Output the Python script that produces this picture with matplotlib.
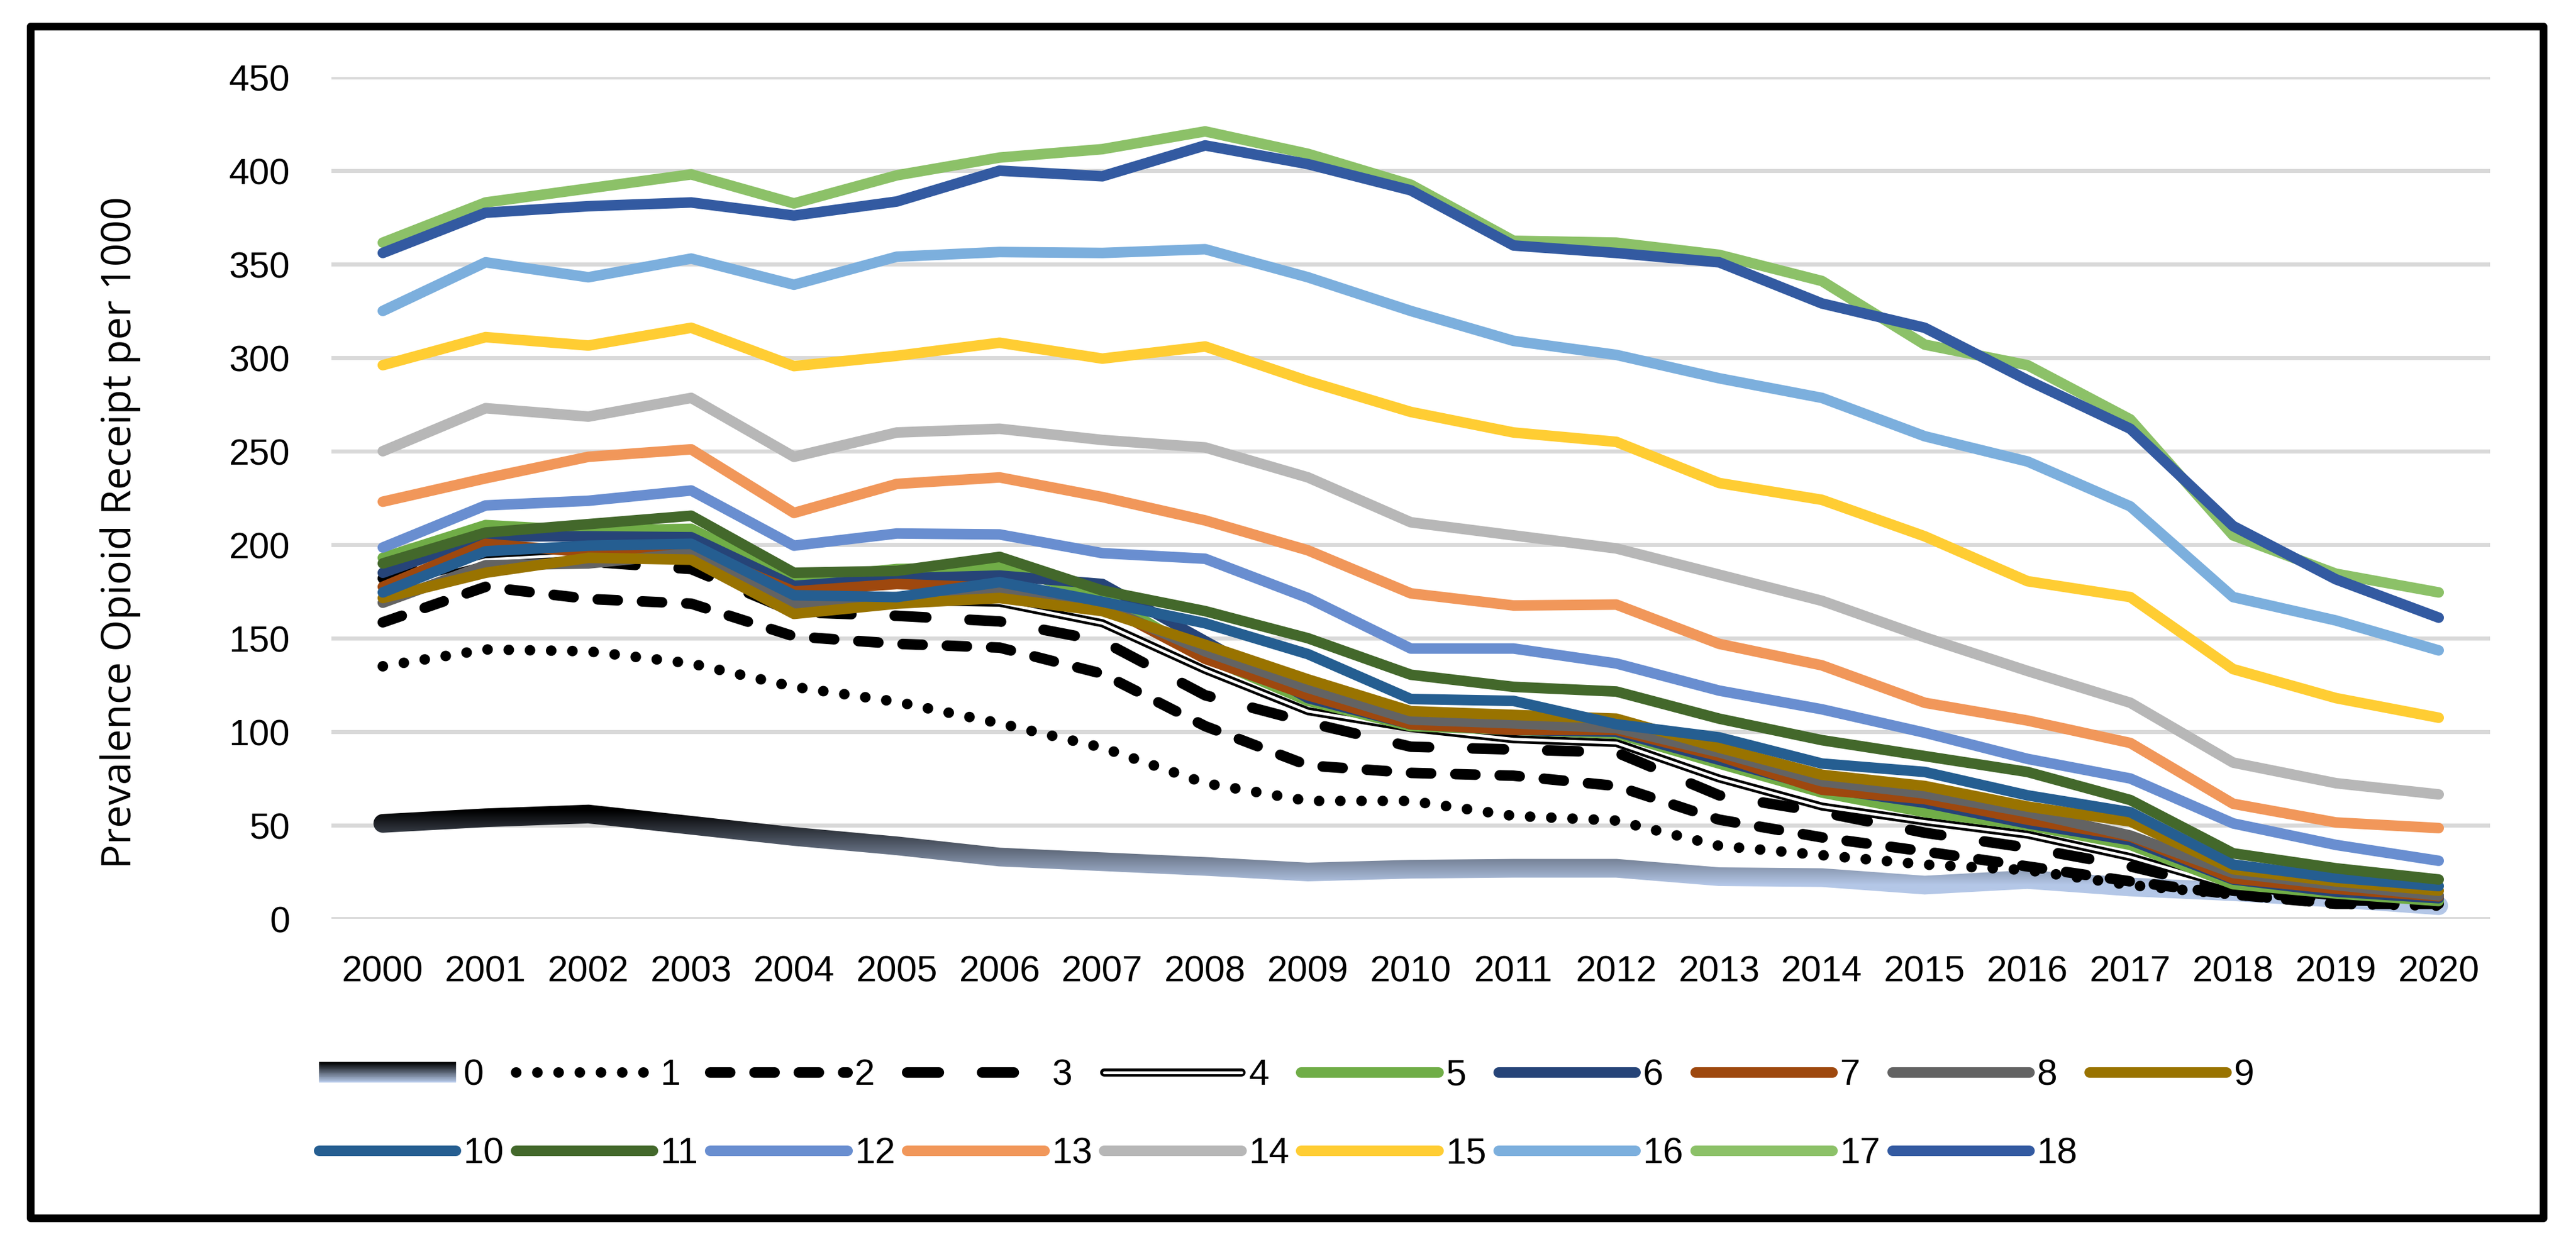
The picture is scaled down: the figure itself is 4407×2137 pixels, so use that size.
import numpy as np
import matplotlib
matplotlib.use('Agg')
import matplotlib.pyplot as plt
from matplotlib.path import Path
from matplotlib.patches import Rectangle
from matplotlib.colors import LinearSegmentedColormap
from matplotlib.legend_handler import HandlerBase

plt.rcParams['font.family'] = ['Liberation Sans', 'DejaVu Sans']

# years on the x axis
years = [str(y) for y in range(2000, 2021)]

# prevalence per 1000, one list per group 0..18
g0 = [51, 54, 56, 50, 44, 39, 33, 30.5, 28, 25, 26.5, 27, 27, 22.5, 22, 18, 21, 17, 14.5, 11, 7]
g1 = [135, 144, 143, 136.5, 124, 116, 104.5, 91.5, 72.5, 63, 63, 55, 52.5, 39, 34, 29, 26, 18, 13, 8, 7]
g2 = [158.5, 177.5, 171, 168.5, 151, 147, 145, 131, 103, 82, 78, 76.5, 71, 53, 43.5, 36, 28, 20, 13, 8, 8]
g3 = [182, 196, 191, 187, 164, 162, 159, 148.5, 119.5, 105, 92, 90.5, 89, 66, 57, 46, 38, 28, 15, 10, 9]
g4 = [178, 192, 195, 193, 170, 170, 169, 158, 133, 111, 102, 96, 94, 75, 60, 52, 45, 33, 17, 12, 10]
g5 = [193, 210.5, 207.5, 208.5, 181.5, 187, 188, 173, 140, 116.5, 103, 101, 99, 83, 67.5, 57, 50, 39.5, 18.5, 13.5, 9.5]
g6 = [185, 204.5, 204.5, 204, 178, 182, 183.5, 179, 148.5, 118, 104, 101, 100, 85, 70, 62, 51, 42, 21, 14.5, 11]
g7 = [177.5, 200.5, 196, 198, 175, 179, 177, 168, 139, 119.5, 104, 101, 101, 87, 69, 64, 53, 44, 21.5, 16, 12]
g8 = [169, 189, 190, 195.5, 168.5, 172, 175.5, 167, 143, 123.5, 106.5, 104.5, 102, 89, 73.5, 67, 57, 44.5, 24.5, 18, 12.5]
g9 = [171.5, 185, 193, 192, 163, 168.5, 171.5, 164.5, 146.5, 128, 111, 109, 107, 91.5, 77, 71, 60, 52, 26.5, 20, 15]
g10 = [174.5, 196.5, 199.5, 200.5, 173, 172, 180, 169.5, 158, 141.5, 117.5, 116.5, 104, 97, 83, 78.5, 66, 57, 29, 22, 17.5]
g11 = [190, 206.5, 211, 215.5, 185, 186, 193.5, 175.5, 164.5, 150, 130.5, 124, 121.5, 107, 95.5, 87, 78.5, 63.5, 35, 27, 21]
g12 = [198.5, 221, 223.5, 229, 199.5, 206, 205.5, 195.5, 192.5, 171.5, 144.5, 144.5, 136.5, 122, 112, 99.5, 85.5, 75, 51, 39.5, 31]
g13 = [223, 235.5, 247, 251, 217, 232.5, 236, 225.5, 213, 197, 174, 167.5, 168, 147, 135.5, 115.5, 106, 94, 61.5, 51.5, 48.5]
g14 = [250, 273, 268.5, 278.5, 247, 260, 262, 256, 252, 236, 212, 205, 198, 184, 170, 150.5, 132.5, 115.5, 83.5, 72.5, 66.5]
g15 = [296, 311, 306.5, 316, 295.5, 301, 308, 299.5, 306, 287.5, 271, 260, 255, 233, 224, 204.5, 180.5, 172, 133.5, 118, 107.5]
g16 = [325, 351, 343, 353, 339, 354, 356.5, 356, 358, 343, 325, 309, 301.5, 289, 278.5, 258, 244.5, 220.5, 172, 159.5, 143.5]
g17 = [361.5, 383, 390.5, 398, 382.5, 397.5, 407, 411.5, 421, 409, 392.5, 362.5, 361.5, 355, 341, 307, 296, 267, 205, 184.5, 174.5]
g18 = [356, 377.5, 381, 383, 376, 383.5, 400, 397, 413.5, 403.5, 389.5, 360, 356, 351, 329, 316, 288, 262, 210, 181.5, 161]

groups = [g0, g1, g2, g3, g4, g5, g6, g7, g8, g9, g10, g11, g12, g13, g14, g15, g16, g17, g18]
names = [str(i) for i in range(len(groups))]

# colours of the solid lines 5..18
solid_colors = ['#70ad47', '#264478', '#9e480e', '#636363', '#997300', '#255e91',
                '#43682b', '#698ed0', '#f1975a', '#b7b7b7', '#ffcd33', '#7cafdd',
                '#8cc168', '#335aa1']

W, H = 4407, 2137
fig = plt.figure(figsize=(W / 100, H / 100), dpi=100)
ax = fig.add_axes([567 / W, 1 - 1572 / H, (4260 - 567) / W, (1572 - 132) / H])

x = np.arange(len(years))
ax.set_xlim(-0.5, len(years) - 0.5)
ax.set_ylim(0, 450)

#Axis formatting
ax.set_yticks(np.arange(0, 451, 50))
ax.set_xticks(x)
ax.set_xticklabels(years)
ax.grid(axis='y', color='#d9d9d9', lw=5)
ax.grid(axis='x', visible=False)
ax.set_axisbelow(True)
for s in ax.spines.values():
    s.set_visible(False)
ax.tick_params(axis='y', length=0, labelsize=45, pad=51)
ax.tick_params(axis='x', length=0, labelsize=45, pad=44)

lw = 13
handles = []

# group 0: thick line filled with a vertical black -> light blue gradient
grad_cmap = LinearSegmentedColormap.from_list('g0', ['#b4c7e7', '#000000'])
pts = ax.transData.transform(np.column_stack([x, g0]))
hw = 16.0
d = np.diff(pts, axis=0)
d = d / np.hypot(d[:, 0], d[:, 1])[:, None]
nrm = np.column_stack([-d[:, 1], d[:, 0]])
vn = np.zeros_like(pts)
vn[0] = nrm[0]
vn[-1] = nrm[-1]
m = nrm[:-1] + nrm[1:]
m = m / np.hypot(m[:, 0], m[:, 1])[:, None]
vn[1:-1] = m / (m * nrm[1:]).sum(1)[:, None]
left = pts + vn * hw
right = pts - vn * hw
a1 = np.arctan2(nrm[-1, 1], nrm[-1, 0])
t = np.linspace(a1, a1 - np.pi, 20)
cap_end = pts[-1] + hw * np.column_stack([np.cos(t), np.sin(t)])
a0 = np.arctan2(-nrm[0, 1], -nrm[0, 0])
t = np.linspace(a0, a0 - np.pi, 20)
cap_start = pts[0] + hw * np.column_stack([np.cos(t), np.sin(t)])
outline = np.vstack([left, cap_end, right[::-1], cap_start])
outline = ax.transData.inverted().transform(outline)
outline = np.vstack([outline, outline[:1]])

yy = np.linspace(0, 80, 400)
grad = np.clip((yy - 18) / 40.0, 0, 1).reshape(-1, 1)
im = ax.imshow(grad, cmap=grad_cmap, vmin=0, vmax=1, aspect='auto',
               extent=(-0.5, len(years) - 0.5, 0, 80), origin='lower',
               interpolation='bilinear', zorder=1.5)
im.set_clip_path(Path(outline, closed=True), transform=ax.transData)


class GradProxy:
    pass


class GradHandler(HandlerBase):
    def create_artists(self, legend, orig_handle, xdescent, ydescent,
                       width, height, fontsize, trans):
        arts = []
        n = 20
        h = height * 0.8
        y0 = -ydescent + (height - h) / 2
        for k in range(n):
            c = grad_cmap(1 - k / (n - 1))
            arts.append(Rectangle((-xdescent, y0 + h - (k + 1) * h / n), width, h / n,
                                  facecolor=c, edgecolor=c, lw=0.3, transform=trans))
        return arts


handles.append(GradProxy())

# groups 1-3: black dotted / dashed
l1, = ax.plot(x, g1, color='black', lw=lw, dashes=(0.01, 2.0),
              dash_capstyle='round', zorder=2)
l2, = ax.plot(x, g2, color='black', lw=lw, dashes=(1.9, 2.3),
              dash_capstyle='round', zorder=2)
l3, = ax.plot(x, g3, color='black', lw=lw, dashes=(3.0, 4.1),
              dash_capstyle='round', zorder=2)
handles += [l1, l2, l3]

# group 4: double line (black with white core)
l4a, = ax.plot(x, g4, color='black', lw=10, solid_capstyle='round',
               solid_joinstyle='round', zorder=2)
l4b, = ax.plot(x, g4, color='white', lw=3.5, solid_capstyle='round',
               solid_joinstyle='round', zorder=2)
handles.append((l4a, l4b))

# groups 5-18: solid coloured lines
for i in range(5, len(groups)):
    ln, = ax.plot(x, groups[i], color=solid_colors[i - 5], lw=lw,
                  solid_capstyle='round', solid_joinstyle='round', zorder=2)
    handles.append(ln)

ax.set_xlim(-0.5, len(years) - 0.5)
ax.set_ylim(0, 450)

# legend laid out row by row: 0-9 on top, 10-18 below
order = []
for j in range(10):
    order.append(j)
    if j + 10 < len(groups):
        order.append(j + 10)
fig.legend([handles[k] for k in order], [names[k] for k in order],
           ncol=10, loc='center', bbox_to_anchor=(2201 / W, 1 - 1907 / H),
           frameon=False, fontsize=45, handlelength=3.75, handletextpad=0.2,
           columnspacing=0.33, labelspacing=1.2,
           handler_map={GradProxy: GradHandler()})

fig.text(206 / W, 1 - 911 / H, 'Prevalence Opioid Receipt per 1000',
         rotation=90, ha='center', va='center', fontsize=50,
         family=['Open Sans', 'DejaVu Sans'])

# black frame round the chart
fig.add_artist(Rectangle((52 / W, 1 - 2084 / H), (4351 - 52) / W, (2084 - 45) / H,
                         transform=fig.transFigure, fill=False, lw=9.5,
                         edgecolor='black', joinstyle='round'))

fig.savefig('out.png', dpi=100)
